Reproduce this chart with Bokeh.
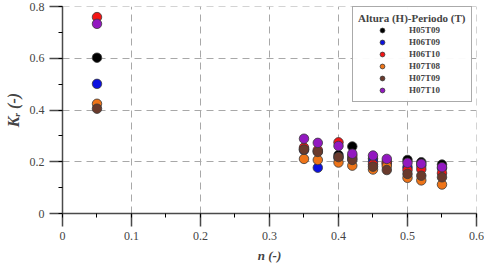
from bokeh.plotting import figure
from bokeh.models import Legend, LegendItem, Range1d
from bokeh.embed import file_html
from bokeh.resources import INLINE

# ---- data ----
n_values = [0.05, 0.35, 0.37, 0.40, 0.42, 0.45, 0.47, 0.50, 0.52, 0.55]
series_names = ["H05T09", "H06T09", "H06T10", "H07T08", "H07T09", "H07T10"]
kr_H05T09 = [0.602, 0.250, 0.240, 0.226, 0.259, 0.212, 0.200, 0.207, 0.198, 0.189]
kr_H06T09 = [0.501, 0.245, 0.177, 0.215, 0.212, 0.200, 0.192, 0.179, 0.185, 0.175]
kr_H06T10 = [0.759, 0.255, 0.245, 0.275, 0.222, 0.190, 0.195, 0.168, 0.171, 0.156]
kr_H07T08 = [0.424, 0.211, 0.207, 0.197, 0.185, 0.170, 0.183, 0.138, 0.128, 0.112]
kr_H07T09 = [0.405, 0.247, 0.238, 0.218, 0.207, 0.181, 0.168, 0.153, 0.146, 0.140]
kr_H07T10 = [0.733, 0.289, 0.273, 0.261, 0.231, 0.224, 0.211, 0.196, 0.192, 0.179]
series_values = [kr_H05T09, kr_H06T09, kr_H06T10, kr_H07T08, kr_H07T09, kr_H07T10]
series_colors = ["#000000", "#0c10e0", "#f41414", "#ee7418", "#6a3a2c", "#9218c0"]

x_ticks = [0, 0.1, 0.2, 0.3, 0.4, 0.5, 0.6]   # labelled "0", "0.1", ... "0.6"
y_ticks = [0, 0.2, 0.4, 0.6, 0.8]             # labelled "0", "0.2", ... "0.8"

SERIF = "Liberation Serif"
AXIS_COLOR = "#4a4a4a"

p = figure(width=484, height=265, output_backend="svg", toolbar_location=None,
           x_range=Range1d(x_ticks[0], x_ticks[-1] + 1e-7),
           y_range=Range1d(y_ticks[0], y_ticks[-1] + 1e-7),
           min_border_left=62, min_border_right=8, min_border_top=6, min_border_bottom=52)
p.outline_line_color = None

renderers = []
for name, vals, col in zip(series_names, series_values, series_colors):
    r = p.scatter(n_values, vals, size=9.5, fill_color=col, line_color="#3a3a3a",
                  line_width=0.8)
    renderers.append(r)

# modify the default tickers in place (shared with the grids)
xt = p.xaxis[0].ticker
xt.desired_num_ticks = len(x_ticks) - 1
xt.num_minor_ticks = 2
yt = p.yaxis[0].ticker
yt.desired_num_ticks = len(y_ticks)
yt.num_minor_ticks = 2

p.axis.axis_line_color = AXIS_COLOR
p.axis.axis_line_width = 1.5
p.axis.major_tick_line_color = AXIS_COLOR
p.axis.major_tick_line_width = 1.5
p.axis.major_tick_in = 0
p.axis.major_tick_out = 13
p.axis.major_label_text_font = SERIF
p.axis.major_label_text_font_size = "12px"
p.axis.axis_label_text_font = SERIF
p.axis.axis_label_text_font_style = "bold italic"

p.xaxis.axis_label = "n (-)"
p.xaxis.axis_label_text_font_size = "13px"
p.yaxis.axis_label = "Kᵣ (-)"
p.yaxis.axis_label_text_font_size = "16px"

# dashed grid
p.grid.grid_line_color = "#a8a8a8"
p.grid.grid_line_dash = "7 5"

legend = Legend(items=[LegendItem(label=nm, renderers=[r]) for nm, r in zip(series_names, renderers)],
                location=(290, 111))
legend.title = "Altura (H)-Periodo (T)"
legend.title_text_font = SERIF
legend.title_text_font_style = "bold"
legend.title_text_font_size = "11px"
legend.title_standoff = 0
legend.label_text_font = SERIF
legend.label_text_font_style = "bold"
legend.label_text_font_size = "9px"
legend.glyph_width = 48
legend.glyph_height = 12
legend.label_height = 12
legend.label_standoff = 3
legend.spacing = 0
legend.padding = 5
legend.margin = 0
legend.border_line_color = "#555555"
legend.border_line_width = 1.5
p.add_layout(legend)

open("out.html", "w").write(file_html(p, INLINE))
